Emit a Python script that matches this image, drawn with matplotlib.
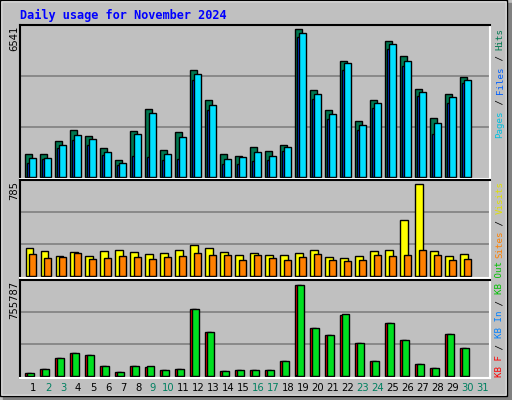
import numpy as np
import matplotlib
matplotlib.use("Agg")
import matplotlib.pyplot as plt
from matplotlib.patches import Rectangle

days = list(range(1, 32))
weekend = [2, 3, 9, 10, 16, 17, 23, 24, 30, 31]

hits = [1000, 1000, 1560, 2040, 1780, 1260, 740, 2000, 2950, 1170, 1950, 4590, 3340, 1000, 910,
        1300, 1130, 1390, 6370, 3770, 2900, 4980, 2420, 3340, 5850, 5200, 3810, 2560, 3600, 4290]
files = [820, 820, 1390, 1820, 1650, 1080, 600, 1860, 2770, 1000, 1730, 4420, 3120, 780, 870,
         1080, 910, 1300, 6190, 3600, 2730, 4890, 2250, 3200, 5720, 4980, 3680, 2340, 3470, 4200]
pages = [600, 780, 1260, 1600, 1390, 950, 520, 910, 870, 740, 780, 4200, 2900, 560, 560,
         690, 740, 1130, 6020, 3380, 2510, 4630, 2040, 2990, 5500, 4760, 3510, 1860, 3200, 4070]
visits = [229, 204, 164, 196, 164, 204, 213, 196, 180, 188, 213, 254, 229, 196, 172,
          188, 172, 172, 188, 213, 155, 147, 164, 204, 213, 458, 753, 204, 164, 180]
sites = [180, 147, 155, 188, 139, 147, 164, 155, 139, 155, 164, 188, 172, 172, 131,
         172, 147, 131, 155, 180, 131, 123, 131, 172, 164, 172, 213, 172, 131, 139]
kb_f = [26200, 57700, 144000, 184000, 168000, 81300, 34100, 81300, 73500, 49900, 57700, 530000,
        349000, 42000, 49900, 49900, 49900, 120700, 719000, 380500, 325000, 483000, 262000,
        120700, 420000, 286000, 97100, 65600, 333000, 223000]
kb_out = [26200, 57700, 144000, 184000, 168000, 81300, 34100, 81300, 81300, 49900, 57700, 530000,
          349000, 42000, 49900, 49900, 49900, 120700, 719000, 380500, 325000, 491000, 262000,
          120700, 420000, 286000, 97100, 65600, 333000, 223000]
kb_in = [v * 0.01 for v in kb_f]

max_pages, max_visits, max_kb = 6541, 785, 755787

W, H = 512, 400
fig = plt.figure(figsize=(W / 100, H / 100), dpi=100)
fig.patch.set_facecolor("#c0c0c0")


def fx(x):
    return x / W


def fy(y):
    return 1 - y / H


def frect(x0, y0, x1, y1, **kw):
    # rectangle given in pixel coords (top-left origin)
    fig.patches.append(Rectangle((fx(x0), fy(y1)), fx(x1) - fx(x0), fy(y0) - fy(y1),
                                 transform=fig.transFigure, zorder=-5, **kw))


# outer frame and shadow
frect(507, 3, 512, 400, color="#808080")
frect(3, 396, 512, 400, color="#808080")
frect(1, 1, 506, 395, fill=False, ec="white", lw=1)
frect(0, 0, 507, 396, fill=False, ec="black", lw=1)

x = np.arange(1, 31)
xlim = (0.133, 31.47)


def panel(top, bottom):
    ax = fig.add_axes([fx(20), fy(bottom), fx(490) - fx(20), fy(top) - fy(bottom)])
    ax.set_facecolor("#c0c0c0")
    ax.set_xlim(*xlim)
    ax.set_xticks([])
    ax.set_yticks([])
    for s in ("top", "left"):
        ax.spines[s].set_color("black")
    for s in ("bottom", "right"):
        ax.spines[s].set_color("white")
    for sp in ax.spines.values():
        sp.set_linewidth(1.5)
    return ax


ek = dict(edgecolor="black", linewidth=1, align="edge")

# top panel
ax1 = panel(25, 179)
ax1.set_ylim(-70, max_pages)
for g in (max_pages / 3, 2 * max_pages / 3):
    ax1.axhline(g, color="#808080", lw=1.2, zorder=0)
ax1.bar(x - 0.53, hits, 0.47, color="#007850", **ek)
ax1.bar(x - 0.4, pages, 0.4, color="#0040ff", **ek)
ax1.bar(x - 0.27, files, 0.47, color="#00e0ff", **ek)

# middle panel
ax2 = panel(180, 278)
ax2.set_ylim(-15, max_visits)
for g in (max_visits / 3, 2 * max_visits / 3):
    ax2.axhline(g, color="#808080", lw=1.2, zorder=0)
ax2.bar(x - 0.5, visits, 0.5, color="#ffff00", **ek)
ax2.bar(x - 0.27, sites, 0.47, color="#ff8000", **ek)

# bottom panel
ax3 = panel(280, 378)
ax3.set_ylim(-14000, max_kb)
for g in (max_kb / 3, 2 * max_kb / 3):
    ax3.axhline(g, color="#808080", lw=1.2, zorder=0)
ax3.bar(x - 0.53, kb_f, 0.4, color="#ff0000", **ek)
ax3.bar(x - 0.47, kb_in, 0.2, color="#0080ff", **ek)
ax3.bar(x - 0.4, kb_out, 0.47, color="#00e020", **ek)

# day labels
for d in days:
    xp = 33 + 15 * (d - 1)
    fig.text(fx(xp), fy(388), str(d), ha="center", va="center", fontsize=7.2,
             color="#008060" if d in weekend else "black")

fig.text(fx(20), fy(15), "Daily usage for November 2024", fontsize=8.6, fontweight="bold",
         family="DejaVu Sans Mono", color="#0000ff", va="center", ha="left")

for lab, ytop in (("6541", 25), ("785", 180), ("755787", 280)):
    fig.text(fx(14), fy(ytop + 1), lab, rotation=90, ha="center", va="top", fontsize=7.2,
             color="black")


def vlabel(parts, y_start, anchor="bottom"):
    step = 5.5
    total = sum(len(t) for t, _ in parts) * step
    y = y_start if anchor == "bottom" else y_start + total
    for t, c in parts:
        fig.text(fx(500), fy(y), t, rotation=90, ha="left", va="center", fontsize=6.6,
                 family="DejaVu Sans Mono", color=c, rotation_mode="anchor")
        y -= len(t) * step


vlabel([("Pages", "#00c0e0"), (" / ", "black"), ("Files", "#0060ff"), (" / ", "black"),
        ("Hits", "#007850")], 28, anchor="top")
vlabel([("Sites", "#ff8000"), (" / ", "black"), ("Visits", "#e0e000")], 181, anchor="top")
vlabel([("KB F", "#ff0000"), (" / ", "black"), ("KB In", "#0080ff"), (" / ", "black"),
        ("KB Out", "#00c000")], 377)

fig.savefig("out.png", dpi=100, facecolor=fig.get_facecolor())
